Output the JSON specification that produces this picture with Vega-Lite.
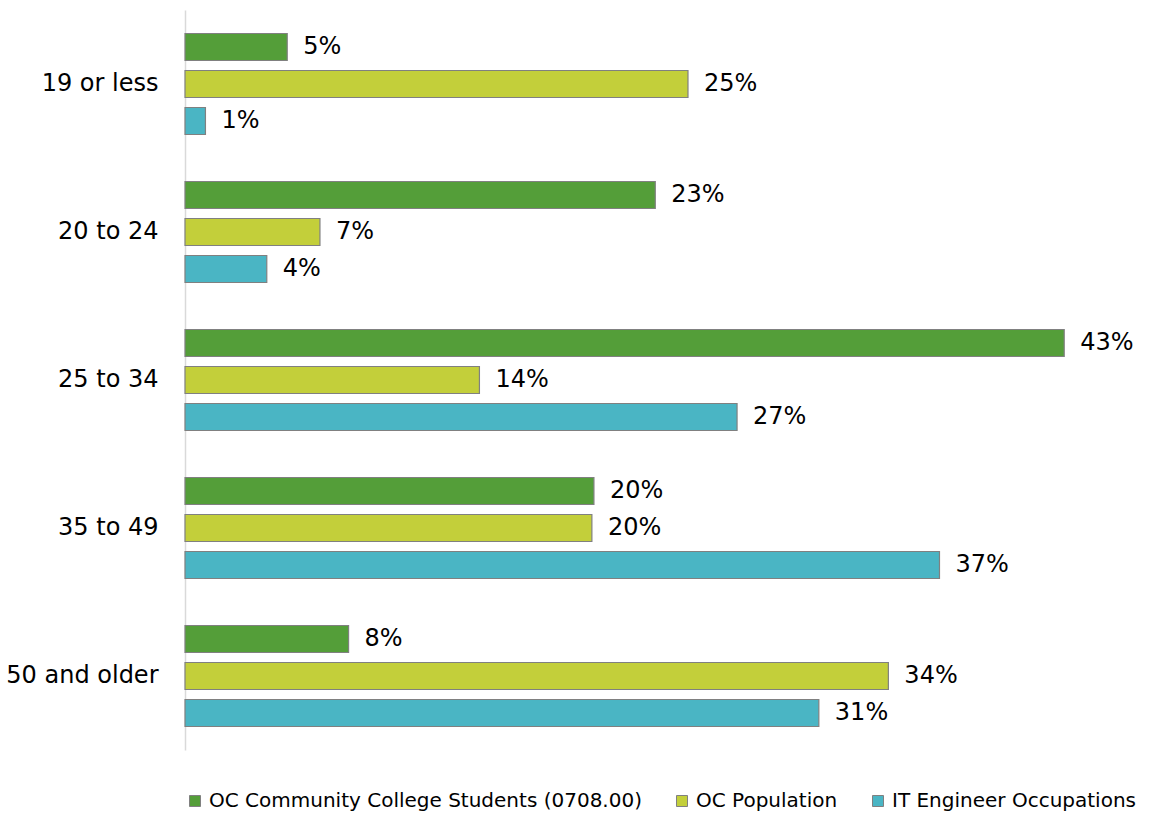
{
  "$schema": "https://vega.github.io/schema/vega-lite/v6.json",
  "width": 961,
  "height": 740,
  "autosize": {"type": "none"},
  "padding": {"left": 185, "top": 10, "right": 14, "bottom": 68},
  "background": "white",
  "config": {
    "view": {"stroke": null},
    "font": "DejaVu Sans"
  },
  "data": {
    "values": [
      {"age": "19 or less", "series": "OC Community College Students (0708.00)", "value": 0.050},
      {"age": "19 or less", "series": "OC Population", "value": 0.246},
      {"age": "19 or less", "series": "IT Engineer Occupations", "value": 0.010},
      {"age": "20 to 24", "series": "OC Community College Students (0708.00)", "value": 0.230},
      {"age": "20 to 24", "series": "OC Population", "value": 0.066},
      {"age": "20 to 24", "series": "IT Engineer Occupations", "value": 0.040},
      {"age": "25 to 34", "series": "OC Community College Students (0708.00)", "value": 0.430},
      {"age": "25 to 34", "series": "OC Population", "value": 0.144},
      {"age": "25 to 34", "series": "IT Engineer Occupations", "value": 0.270},
      {"age": "35 to 49", "series": "OC Community College Students (0708.00)", "value": 0.200},
      {"age": "35 to 49", "series": "OC Population", "value": 0.199},
      {"age": "35 to 49", "series": "IT Engineer Occupations", "value": 0.369},
      {"age": "50 and older", "series": "OC Community College Students (0708.00)", "value": 0.080},
      {"age": "50 and older", "series": "OC Population", "value": 0.344},
      {"age": "50 and older", "series": "IT Engineer Occupations", "value": 0.310}
    ]
  },
  "encoding": {
    "y": {
      "field": "age",
      "type": "nominal",
      "sort": ["19 or less", "20 to 24", "25 to 34", "35 to 49", "50 and older"],
      "scale": {"paddingInner": 0.25, "paddingOuter": 0.125},
      "axis": {
        "title": null,
        "ticks": false,
        "labelFontSize": 24,
        "labelColor": "#000000",
        "labelPadding": 27,
        "labelLimit": 300,
        "domainColor": "#D9D9D9",
        "domainWidth": 1.5,
        "grid": false
      }
    },
    "yOffset": {
      "field": "series",
      "type": "nominal",
      "sort": ["OC Community College Students (0708.00)", "OC Population", "IT Engineer Occupations"],
      "scale": {"paddingInner": 0.27, "paddingOuter": 0.135}
    },
    "x": {
      "field": "value",
      "type": "quantitative",
      "scale": {"domain": [0, 0.47], "nice": false},
      "axis": null
    }
  },
  "layer": [
    {
      "mark": {"type": "bar", "stroke": "#808080", "strokeWidth": 1.2},
      "encoding": {
        "color": {
          "field": "series",
          "type": "nominal",
          "sort": ["OC Community College Students (0708.00)", "OC Population", "IT Engineer Occupations"],
          "scale": {
            "domain": ["OC Community College Students (0708.00)", "OC Population", "IT Engineer Occupations"],
            "range": ["#549E39", "#C3CF3A", "#4AB5C4"]
          },
          "legend": {
            "title": null,
            "orient": "none",
            "direction": "horizontal",
            "legendX": 0,
            "legendY": 781,
            "symbolType": "square",
            "symbolSize": 121,
            "symbolStrokeColor": "#808080",
            "symbolStrokeWidth": 1,
            "symbolOpacity": 1,
            "labelFontSize": 20,
            "labelColor": "#000000",
            "labelLimit": 600,
            "columnPadding": 30,
            "labelOffset": 4
          }
        }
      }
    },
    {
      "mark": {"type": "text", "align": "left", "baseline": "middle", "dx": 16, "fontSize": 24, "color": "#000000"},
      "encoding": {
        "text": {"field": "value", "type": "quantitative", "format": ".0%"}
      }
    }
  ]
}
